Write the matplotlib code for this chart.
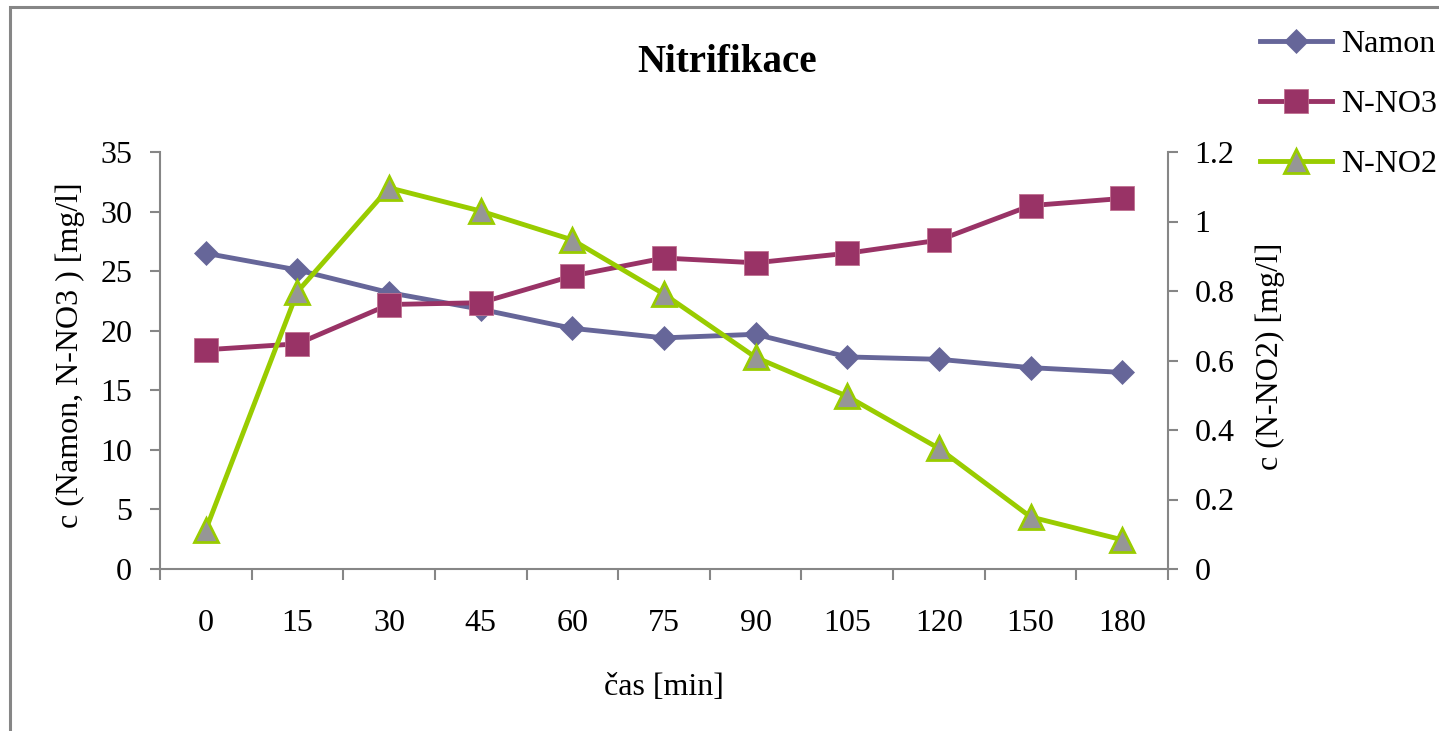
import matplotlib
matplotlib.use("Agg")
import matplotlib.pyplot as plt
from matplotlib.patches import Rectangle


plt.rcParams["font.family"] = ["Liberation Serif", "DejaVu Serif"]

# sampling times [min]
times = ["0", "15", "30", "45", "60", "75", "90", "105", "120", "150", "180"]

# concentrations [mg/l]
namon = [26.5, 25.1, 23.2, 21.8, 20.2, 19.4, 19.7, 17.8, 17.6, 16.9, 16.5]
n_no3 = [18.4, 18.9, 22.2, 22.35, 24.6, 26.1, 25.7, 26.5, 27.6, 30.5, 31.1]
n_no2 = [0.113, 0.798, 1.097, 1.03, 0.947, 0.791, 0.609, 0.497, 0.347, 0.15, 0.084]

left_ticks = [0, 5, 10, 15, 20, 25, 30, 35]
right_ticks = [0, 0.2, 0.4, 0.6, 0.8, 1.0, 1.2]
right_tick_labels = ["0", "0.2", "0.4", "0.6", "0.8", "1", "1.2"]

AXIS_GRAY = "#868686"
FS = 23

W, H = 1439, 731
fig = plt.figure(figsize=(W / 100, H / 100), dpi=100)

# chart frame (runs off the right and bottom edge)
fig.patches.append(
    Rectangle((10 / W, -0.1), 1.2, 1 - 7 / H + 0.1, transform=fig.transFigure,
              fill=False, edgecolor=AXIS_GRAY, linewidth=2.2)
)

ax = fig.add_axes([160 / W, 1 - 569 / H, 1008 / W, 417 / H])
ax2 = ax.twinx()

x = list(range(len(times)))

l1, = ax.plot(x, namon, color="#666699", linewidth=3.5, marker="D",
              markersize=12.5, markerfacecolor="#666699",
              markeredgecolor="#666699", markeredgewidth=0.5, label="Namon",
              zorder=3)
l2, = ax.plot(x, n_no3, color="#993366", linewidth=3.5, marker="s",
              markersize=17.5, markerfacecolor="#993366",
              markeredgecolor="#C07090", markeredgewidth=0.6, label="N-NO3",
              zorder=3)
l3, = ax2.plot(x, n_no2, color="#99CC00", linewidth=3.5, marker="^",
               markersize=17, markerfacecolor="#969696",
               markeredgecolor="#99CC00", markeredgewidth=2, label="N-NO2",
               zorder=3)

ax.set_xlim(-0.5, len(times) - 0.5)
ax.set_ylim(0, 35)
ax2.set_ylim(0, 1.2)

# category ticks sit between the categories, labels at the centres
ax.set_xticks([i - 0.5 for i in range(len(times) + 1)])
ax.set_xticklabels([])
ax.set_xticks(x, minor=True)
ax.set_xticklabels(times, minor=True)
ax.tick_params(axis="x", which="major", length=8, width=1.5, color=AXIS_GRAY,
               direction="out")
ax.tick_params(axis="x", which="minor", length=0, pad=29, labelsize=FS)

ax.set_yticks(left_ticks)
ax.tick_params(axis="y", length=7, width=1.5, color=AXIS_GRAY, pad=13,
               labelsize=FS)
ax2.set_yticks(right_ticks)
ax2.set_yticklabels(right_tick_labels)
ax2.tick_params(axis="y", length=7, width=1.5, color=AXIS_GRAY, pad=12,
                labelsize=FS)

for a in (ax, ax2):
    a.spines["top"].set_visible(False)
    for side in ("left", "bottom", "right"):
        a.spines[side].set_color(AXIS_GRAY)
        a.spines[side].set_linewidth(1.5)
ax.spines["right"].set_visible(False)
ax2.spines["left"].set_visible(False)
ax2.spines["bottom"].set_visible(False)

ax.set_xlabel("čas [min]", fontsize=FS)
ax.xaxis.set_label_coords(0.5, -0.25)
ax.set_ylabel("c (Namon, N-NO3 ) [mg/l]", fontsize=FS)
ax.yaxis.set_label_coords(-0.074, 0.513)
ax2.set_ylabel("c (N-NO2) [mg/l]", fontsize=FS)
ax2.yaxis.set_label_coords(1.087, 0.51)

fig.text(727 / W, 1 - 62 / H, "Nitrifikace", fontsize=28, fontweight="bold",
         ha="center", va="center")

fig.legend(handles=[l1, l2, l3], loc="upper left",
           bbox_to_anchor=(1260 / W, 1 - 30 / H), frameon=False, fontsize=FS,
           handlelength=2.25, handletextpad=0.3, labelspacing=0.95,
           borderpad=0, borderaxespad=0)

fig.savefig("out.png", dpi=100)
